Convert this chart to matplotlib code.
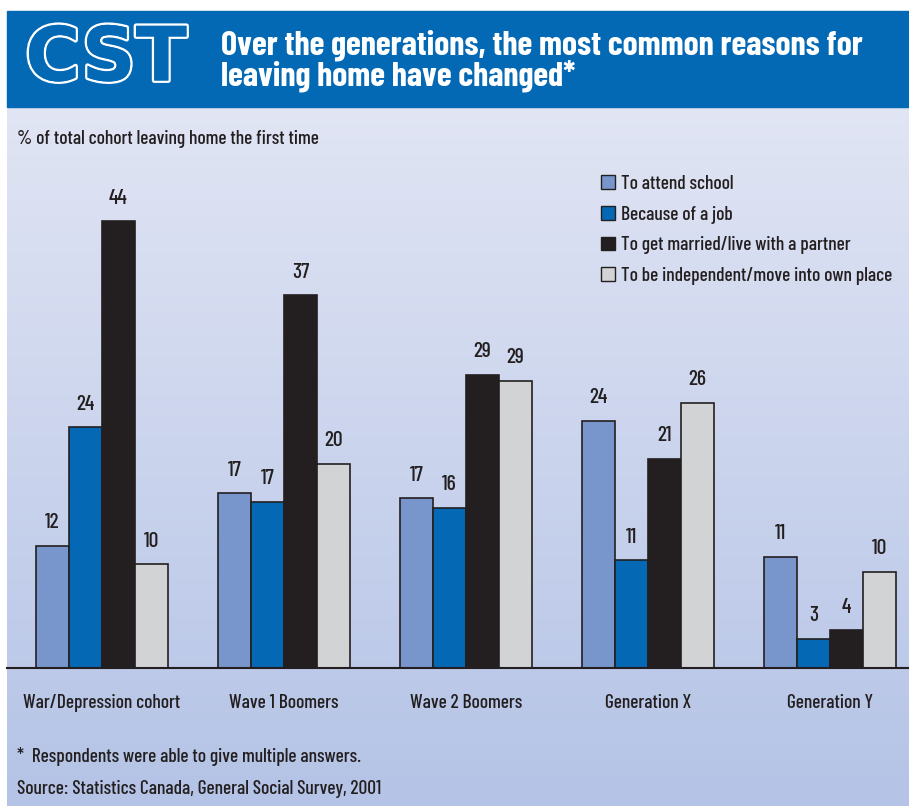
import numpy as np
import matplotlib.pyplot as plt
from matplotlib.patches import Rectangle, Patch
import matplotlib.patheffects as pe

plt.rcParams['font.family'] = ['Barlow Condensed', 'DejaVu Sans']
plt.rcParams['font.weight'] = 500

categories = ["War/Depression cohort", "Wave 1 Boomers", "Wave 2 Boomers",
              "Generation X", "Generation Y"]
series_names = ["To attend school", "Because of a job",
                "To get married/live with a partner",
                "To be independent/move into own place"]
school = [12.0, 17.2, 16.7, 24.3, 10.9]
job = [23.7, 16.4, 15.8, 10.6, 2.9]
married = [44.0, 36.7, 28.9, 20.6, 3.7]
independent = [10.2, 20.1, 28.3, 26.1, 9.5]
school_lbl = [12, 17, 17, 24, 11]
job_lbl = [24, 17, 16, 11, 3]
married_lbl = [44, 37, 29, 21, 4]
independent_lbl = [10, 20, 29, 26, 10]

colors = ["#7896cc", "#0468b4", "#231f20", "#d1d3d4"]
edge = "#231f20"
blue = "#0469b5"

W, H = 909, 806
fig = plt.figure(figsize=(W / 100, H / 100), dpi=100)


def fx(px):
    return px / W


def fy(py):
    return 1 - py / H


# background gradient
bg = fig.add_axes([fx(7), 0, 1 - fx(7), fy(107)])
grad = np.linspace(0, 1, 256)[:, None, None]
top = np.array([225, 229, 244]) / 255
bot = np.array([180, 195, 230]) / 255
img = top + (bot - top) * grad
bg.imshow(np.repeat(img, 2, axis=1), aspect='auto', extent=[0, 1, 0, 1])
bg.axis('off')

# header band
fig.patches.append(Rectangle((fx(7), fy(107)), 1 - fx(7), fy(11) - fy(107),
                             transform=fig.transFigure, color=blue, zorder=0))
fig.text(fx(106), fy(60), "CST", fontsize=54, fontweight='bold',
         family='DejaVu Sans', color=blue, ha='center', va='center',
         path_effects=[pe.withStroke(linewidth=3.5, foreground='white'),
                       pe.Normal()])
fig.text(fx(221), fy(45), "Over the generations, the most common reasons for",
         fontsize=24.5, fontweight='bold', color='white', va='center')
fig.text(fx(221), fy(76), "leaving home have changed*",
         fontsize=24.5, fontweight='bold', color='white', va='center')

# main axes
ax = fig.add_axes([fx(7), fy(668), 1 - fx(7), fy(107) - fy(668)])
ax.set_facecolor('none')
x = np.arange(len(categories))
w = 0.181
ax.set_xlim(-0.522, -0.522 + 902 / 182)
ax.set_ylim(0, 561 / 10.15)

data = [school, job, married, independent]
lbls = [school_lbl, job_lbl, married_lbl, independent_lbl]
for i in range(4):
    bars = ax.bar(x + (i - 1.5) * w, data[i], w, color=colors[i],
                  edgecolor=edge, linewidth=1.2)
    ax.bar_label(bars, labels=[str(v) for v in lbls[i]], padding=10,
                 fontsize=15.5, color=edge)

for s in ['top', 'right', 'left']:
    ax.spines[s].set_visible(False)
ax.spines['bottom'].set_color(edge)
ax.spines['bottom'].set_linewidth(1.5)
ax.set_yticks([])
ax.set_xticks(x, categories, fontsize=14, color=edge)
ax.tick_params(axis='x', length=0, pad=19)

handles = [Patch(facecolor=c, edgecolor=edge, linewidth=1) for c in colors]
fig.legend(handles, series_names, loc='upper left',
           bbox_to_anchor=(fx(601), fy(175)), frameon=False, fontsize=14,
           handlelength=0.7, handleheight=0.7, handletextpad=0.35,
           labelspacing=0.65, borderpad=0, borderaxespad=0,
           labelcolor=edge)

fig.text(fx(17), fy(139), "% of total cohort leaving home the first time",
         fontsize=14, color=edge, va='center')
fig.text(fx(17), fy(757), "*  Respondents were able to give multiple answers.",
         fontsize=14, color=edge, va='center')
fig.text(fx(17), fy(789), "Source: Statistics Canada, General Social Survey, 2001",
         fontsize=14, color=edge, va='center')

fig.savefig("out.png", dpi=100, facecolor='white')
